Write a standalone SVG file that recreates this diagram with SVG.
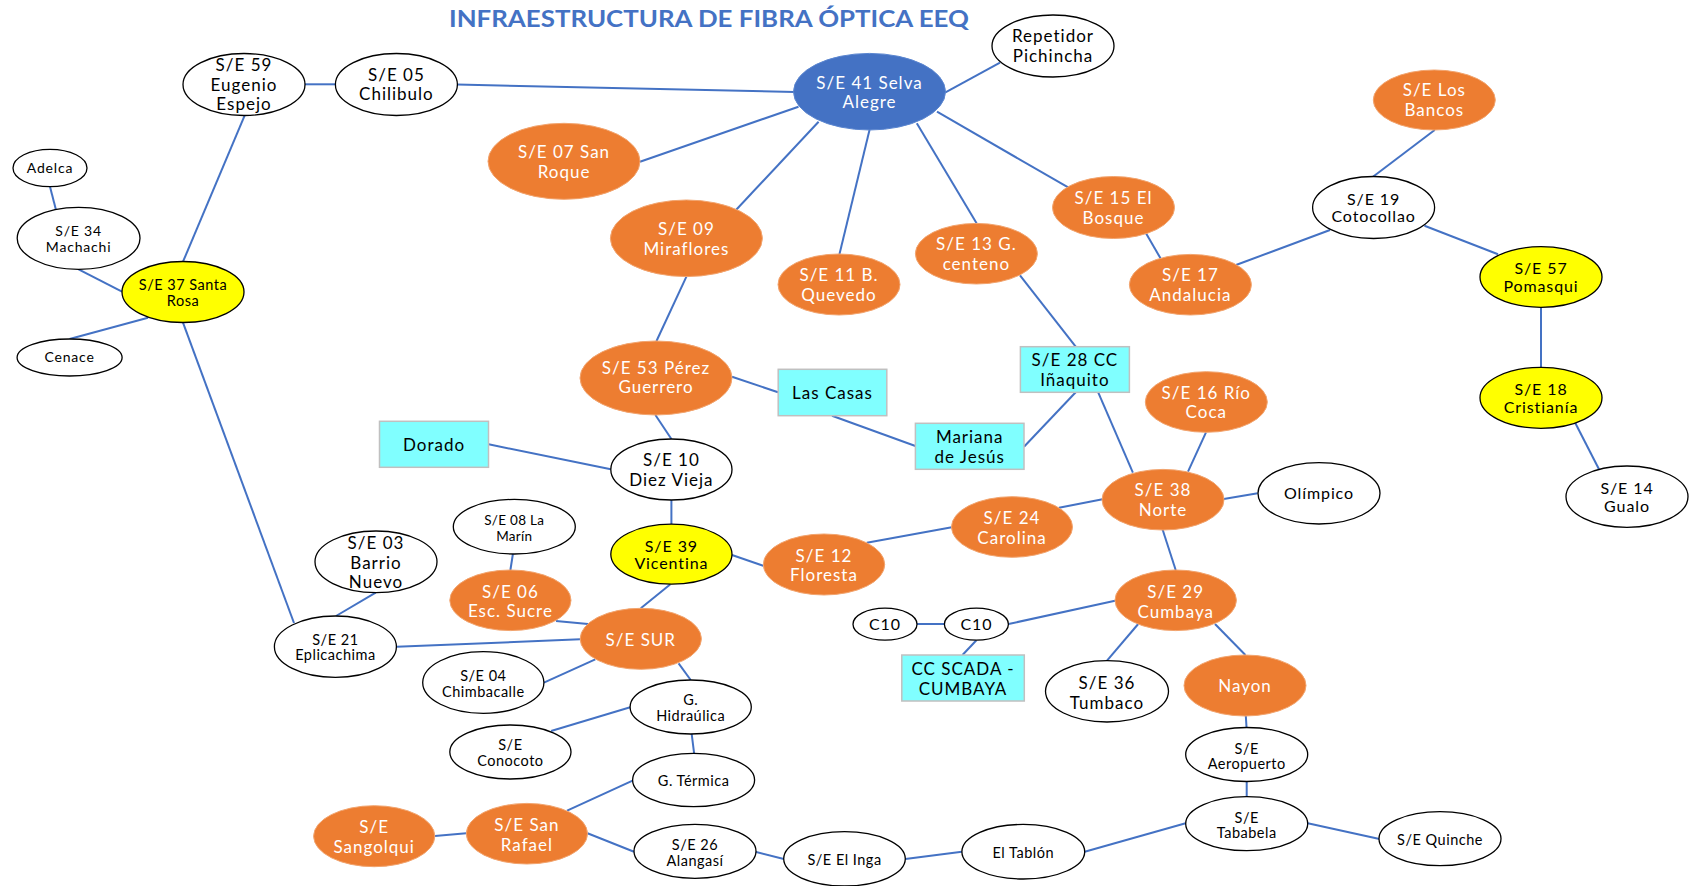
<svg xmlns="http://www.w3.org/2000/svg" width="1693" height="886" viewBox="0 0 1693 886">
  <style>
    .bg { fill: #ffffff; }
    .link { stroke: #4472C4; stroke-width: 2; fill: none; }
    .white ellipse { fill: #ffffff; stroke: #000000; stroke-width: 1.3; }
    .orange ellipse { fill: #ED7D31; stroke: #F2A46E; stroke-width: 1; }
    .blue ellipse { fill: #4472C4; stroke: #5B86D0; stroke-width: 1; }
    .yellow ellipse { fill: #FFFF00; stroke: #000000; stroke-width: 1.3; }
    .box rect { fill: #80FFFF; stroke: #C0C0C0; stroke-width: 1.5; }
    text { font-family: Lato, "Open Sans", "Liberation Sans", sans-serif; text-anchor: middle; font-size: 17px; letter-spacing: 1px; fill: #000000; }
    .orange text, .blue text { fill: #ffffff; }
    .s15 text { font-size: 16px; letter-spacing: 0.9px; }
    .s14 text { font-size: 14.5px; letter-spacing: 0.5px; }
    .s13 text { font-size: 14px; letter-spacing: 0.8px; }
    .s13c text { font-size: 13.5px; letter-spacing: 0.3px; }
    .title { font-family: Lato, "Open Sans", "Liberation Sans", sans-serif; font-weight: bold; font-size: 22px; letter-spacing: 0; fill: #4472C4; text-anchor: start; }
  </style>
  <rect class="bg" x="0" y="0" width="1693" height="886"/>

  <text class="title" x="449" y="27" textLength="520" lengthAdjust="spacingAndGlyphs">INFRAESTRUCTURA DE FIBRA ÓPTICA EEQ</text>

  <!-- fibre links -->
  <g id="connectors">
    <line class="link" x1="305" y1="84.3" x2="336" y2="84.3"/>
    <line class="link" x1="457" y1="84.5" x2="795" y2="92"/>
    <line class="link" x1="183" y1="261.7" x2="244.6" y2="115.7"/>
    <line class="link" x1="50" y1="186.7" x2="56" y2="210"/>
    <line class="link" x1="78.6" y1="269.3" x2="122" y2="291.7"/>
    <line class="link" x1="148" y1="317.7" x2="69.6" y2="339"/>
    <line class="link" x1="183" y1="322.7" x2="294" y2="623"/>
    <line class="link" x1="945" y1="92.7" x2="1000" y2="62.7"/>
    <line class="link" x1="640" y1="161.7" x2="798.5" y2="106.7"/>
    <line class="link" x1="818.6" y1="121.7" x2="736" y2="210"/>
    <line class="link" x1="869.5" y1="130" x2="839.5" y2="254"/>
    <line class="link" x1="916.8" y1="123.3" x2="976.6" y2="223.3"/>
    <line class="link" x1="937" y1="111.7" x2="1068.6" y2="187.7"/>
    <line class="link" x1="686.4" y1="276.7" x2="656.5" y2="341"/>
    <line class="link" x1="1020" y1="275.3" x2="1075.7" y2="346.7"/>
    <line class="link" x1="1434.7" y1="130" x2="1373" y2="176.7"/>
    <line class="link" x1="1146" y1="233.3" x2="1160.5" y2="258.3"/>
    <line class="link" x1="1236" y1="265" x2="1330" y2="230"/>
    <line class="link" x1="1424.5" y1="225.7" x2="1498" y2="254.3"/>
    <line class="link" x1="1541" y1="307.3" x2="1541" y2="367.3"/>
    <line class="link" x1="1575.4" y1="423.3" x2="1599" y2="469.3"/>
    <line class="link" x1="1206" y1="432.3" x2="1188" y2="471.7"/>
    <line class="link" x1="1223.7" y1="499" x2="1257.7" y2="493.3"/>
    <line class="link" x1="732" y1="376.7" x2="778" y2="392.3"/>
    <line class="link" x1="832" y1="415.7" x2="915.4" y2="446"/>
    <line class="link" x1="1024" y1="446.7" x2="1075.7" y2="392.3"/>
    <line class="link" x1="1098.2" y1="392.3" x2="1132.9" y2="472.7"/>
    <line class="link" x1="1059" y1="507.7" x2="1102.5" y2="499.3"/>
    <line class="link" x1="866.8" y1="542.7" x2="951.8" y2="527.3"/>
    <line class="link" x1="732" y1="555" x2="763.2" y2="565.7"/>
    <line class="link" x1="1162.5" y1="529.3" x2="1175.7" y2="570"/>
    <line class="link" x1="916.8" y1="624" x2="944.3" y2="624"/>
    <line class="link" x1="1008.6" y1="624" x2="1115" y2="600.7"/>
    <line class="link" x1="976.4" y1="640.2" x2="962.5" y2="655"/>
    <line class="link" x1="1138.2" y1="624" x2="1107" y2="660.7"/>
    <line class="link" x1="1215" y1="624" x2="1245.4" y2="655"/>
    <line class="link" x1="1245.8" y1="716" x2="1246.5" y2="727.3"/>
    <line class="link" x1="1246.7" y1="781.5" x2="1246.7" y2="796.7"/>
    <line class="link" x1="1307.8" y1="823.3" x2="1379.5" y2="839"/>
    <line class="link" x1="1084.7" y1="851.7" x2="1185.6" y2="823.3"/>
    <line class="link" x1="905.3" y1="859" x2="961.9" y2="851.7"/>
    <line class="link" x1="755.2" y1="851.7" x2="783.8" y2="859"/>
    <line class="link" x1="655.4" y1="415" x2="671.4" y2="439"/>
    <line class="link" x1="488.6" y1="444.3" x2="610.8" y2="469.3"/>
    <line class="link" x1="671.4" y1="500" x2="671.4" y2="524"/>
    <line class="link" x1="670.4" y1="584.3" x2="640.8" y2="608.3"/>
    <line class="link" x1="512.9" y1="554" x2="510.4" y2="570"/>
    <line class="link" x1="556" y1="621" x2="588" y2="624"/>
    <line class="link" x1="375.7" y1="592.7" x2="336" y2="616"/>
    <line class="link" x1="396.5" y1="646.7" x2="580.2" y2="639.3"/>
    <line class="link" x1="543.9" y1="682.7" x2="595.3" y2="659.3"/>
    <line class="link" x1="678.6" y1="663.3" x2="690.7" y2="680"/>
    <line class="link" x1="630.2" y1="707.3" x2="551.1" y2="731"/>
    <line class="link" x1="691.7" y1="734" x2="694.1" y2="753.3"/>
    <line class="link" x1="567.1" y1="810.7" x2="632.6" y2="780.7"/>
    <line class="link" x1="434.8" y1="836" x2="466.3" y2="833.3"/>
    <line class="link" x1="587.5" y1="833.3" x2="634" y2="851.7"/>
  </g>

  <!-- substations and sites -->
  <g id="se59" class="white"><ellipse cx="244" cy="84.5" rx="61" ry="31"/>
    <text><tspan x="244" y="71">S/E 59</tspan><tspan x="244" y="91">Eugenio</tspan><tspan x="244" y="110">Espejo</tspan></text></g>
  <g id="se05" class="white"><ellipse cx="396.4" cy="84.5" rx="61" ry="31"/>
    <text><tspan x="396.4" y="81">S/E 05</tspan><tspan x="396.4" y="100">Chilibulo</tspan></text></g>
  <g id="se41" class="blue"><ellipse cx="869.5" cy="91.7" rx="76" ry="38.3"/>
    <text><tspan x="869.5" y="89">S/E 41 Selva</tspan><tspan x="869.5" y="108">Alegre</tspan></text></g>
  <g id="repetidor" class="white"><ellipse cx="1053" cy="46" rx="61" ry="31"/>
    <text><tspan x="1053" y="42">Repetidor</tspan><tspan x="1053" y="62">Pichincha</tspan></text></g>
  <g id="se07" class="orange"><ellipse cx="564" cy="161.3" rx="76" ry="38"/>
    <text><tspan x="564" y="158">S/E 07 San</tspan><tspan x="564" y="178">Roque</tspan></text></g>
  <g id="se09" class="orange"><ellipse cx="686.4" cy="238.3" rx="76" ry="38.3"/>
    <text><tspan x="686.4" y="235">S/E 09</tspan><tspan x="686.4" y="255">Miraflores</tspan></text></g>
  <g id="se11" class="orange"><ellipse cx="839" cy="284.5" rx="61" ry="30.5"/>
    <text><tspan x="839" y="281">S/E 11 B.</tspan><tspan x="839" y="301">Quevedo</tspan></text></g>
  <g id="se13" class="orange"><ellipse cx="976.4" cy="253.7" rx="61" ry="30.3"/>
    <text><tspan x="976.4" y="250">S/E 13 G.</tspan><tspan x="976.4" y="270">centeno</tspan></text></g>
  <g id="se15" class="orange"><ellipse cx="1113.5" cy="207.5" rx="61" ry="31"/>
    <text><tspan x="1113.5" y="204">S/E 15 El</tspan><tspan x="1113.5" y="224">Bosque</tspan></text></g>
  <g id="losbancos" class="orange"><ellipse cx="1434.3" cy="100" rx="61" ry="30"/>
    <text><tspan x="1434.3" y="96">S/E Los</tspan><tspan x="1434.3" y="116">Bancos</tspan></text></g>
  <g id="se19" class="white s15"><ellipse cx="1373.6" cy="207.5" rx="61" ry="31"/>
    <text><tspan x="1373.6" y="205">S/E 19</tspan><tspan x="1373.6" y="221.5">Cotocollao</tspan></text></g>
  <g id="se17" class="orange"><ellipse cx="1190.4" cy="284.7" rx="61" ry="30.3"/>
    <text><tspan x="1190.4" y="281">S/E 17</tspan><tspan x="1190.4" y="301">Andalucia</tspan></text></g>
  <g id="se57" class="yellow s15"><ellipse cx="1541" cy="277" rx="61" ry="30.3"/>
    <text><tspan x="1541" y="274">S/E 57</tspan><tspan x="1541" y="292">Pomasqui</tspan></text></g>
  <g id="se18" class="yellow s15"><ellipse cx="1541" cy="397.8" rx="61" ry="30.5"/>
    <text><tspan x="1541" y="395">S/E 18</tspan><tspan x="1541" y="413">Cristianía</tspan></text></g>
  <g id="se14" class="white s15"><ellipse cx="1627" cy="496.7" rx="61" ry="30.7"/>
    <text><tspan x="1627" y="494">S/E 14</tspan><tspan x="1627" y="512">Gualo</tspan></text></g>
  <g id="se16" class="orange"><ellipse cx="1206.3" cy="402" rx="61" ry="30.3"/>
    <text><tspan x="1206.3" y="398.5">S/E 16 Río</tspan><tspan x="1206.3" y="418">Coca</tspan></text></g>
  <g id="se38" class="orange"><ellipse cx="1163" cy="499.7" rx="61" ry="30.3"/>
    <text><tspan x="1163" y="496">S/E 38</tspan><tspan x="1163" y="516">Norte</tspan></text></g>
  <g id="olimpico" class="white s15"><ellipse cx="1319" cy="493.3" rx="61" ry="30.7"/>
    <text x="1319" y="498.5">Olímpico</text></g>
  <g id="se28" class="box"><rect x="1020.4" y="346.7" width="109" height="45.6"/>
    <text><tspan x="1074.9" y="366">S/E 28 CC</tspan><tspan x="1074.9" y="386">Iñaquito</tspan></text></g>
  <g id="lascasas" class="box"><rect x="778.2" y="369.3" width="108.6" height="46.4"/>
    <text x="832.5" y="399">Las Casas</text></g>
  <g id="mariana" class="box"><rect x="915.4" y="423.3" width="108.6" height="46"/>
    <text><tspan x="969.7" y="442.5">Mariana</tspan><tspan x="969.7" y="462.5">de Jesús</tspan></text></g>
  <g id="se24" class="orange"><ellipse cx="1012" cy="527" rx="60.5" ry="30.3"/>
    <text><tspan x="1012" y="524">S/E 24</tspan><tspan x="1012" y="544">Carolina</tspan></text></g>
  <g id="se12" class="orange"><ellipse cx="824" cy="564.5" rx="60.7" ry="30.5"/>
    <text><tspan x="824" y="561.5">S/E 12</tspan><tspan x="824" y="581">Floresta</tspan></text></g>
  <g id="se29" class="orange"><ellipse cx="1175.7" cy="600.3" rx="60.7" ry="30.3"/>
    <text><tspan x="1175.7" y="598">S/E 29</tspan><tspan x="1175.7" y="617.5">Cumbaya</tspan></text></g>
  <g id="c10a" class="white s15"><ellipse cx="885" cy="624.2" rx="32" ry="16"/>
    <text x="885" y="630">C10</text></g>
  <g id="c10b" class="white s15"><ellipse cx="976.4" cy="624.2" rx="32" ry="16"/>
    <text x="976.4" y="630">C10</text></g>
  <g id="scada" class="box"><rect x="901.8" y="655" width="122.5" height="46"/>
    <text><tspan x="963" y="674.5">CC SCADA -</tspan><tspan x="963" y="694.5">CUMBAYA</tspan></text></g>
  <g id="se36" class="white"><ellipse cx="1107" cy="691.3" rx="61.5" ry="30.7"/>
    <text><tspan x="1107" y="688.5">S/E 36</tspan><tspan x="1107" y="708.5">Tumbaco</tspan></text></g>
  <g id="nayon" class="orange"><ellipse cx="1245" cy="685.5" rx="61" ry="30.5"/>
    <text x="1245" y="691.5">Nayon</text></g>
  <g id="aeropuerto" class="white s14"><ellipse cx="1246.7" cy="754.5" rx="61" ry="27"/>
    <text><tspan x="1246.7" y="753.5">S/E</tspan><tspan x="1246.7" y="768.5">Aeropuerto</tspan></text></g>
  <g id="tababela" class="white s14"><ellipse cx="1246.7" cy="823.7" rx="61" ry="27"/>
    <text><tspan x="1246.7" y="822.5">S/E</tspan><tspan x="1246.7" y="838">Tababela</tspan></text></g>
  <g id="quinche" class="white s14"><ellipse cx="1440" cy="838.7" rx="61" ry="27"/>
    <text x="1440" y="845">S/E Quinche</text></g>
  <g id="tablon" class="white s14"><ellipse cx="1023.3" cy="851.7" rx="61.4" ry="27.3"/>
    <text x="1023.3" y="858">El Tablón</text></g>
  <g id="elinga" class="white s14"><ellipse cx="844.5" cy="858.8" rx="60.8" ry="27.2"/>
    <text x="844.5" y="865">S/E El Inga</text></g>
  <g id="se26" class="white s14"><ellipse cx="695" cy="851.3" rx="61" ry="27"/>
    <text><tspan x="695" y="850">S/E 26</tspan><tspan x="695" y="866">Alangasí</tspan></text></g>
  <g id="sanrafael" class="orange"><ellipse cx="526.9" cy="833.7" rx="60.6" ry="30.3"/>
    <text><tspan x="526.9" y="830.5">S/E San</tspan><tspan x="526.9" y="850.5">Rafael</tspan></text></g>
  <g id="sangolqui" class="orange"><ellipse cx="374.2" cy="836.2" rx="60.6" ry="30.5"/>
    <text><tspan x="374.2" y="833">S/E</tspan><tspan x="374.2" y="853">Sangolqui</tspan></text></g>
  <g id="termica" class="white s14"><ellipse cx="693.6" cy="780" rx="61" ry="26.7"/>
    <text x="693.6" y="786">G. Térmica</text></g>
  <g id="conocoto" class="white s14"><ellipse cx="510.4" cy="752" rx="60.6" ry="27"/>
    <text><tspan x="510.4" y="750">S/E</tspan><tspan x="510.4" y="766">Conocoto</tspan></text></g>
  <g id="hidraulica" class="white s14"><ellipse cx="690.7" cy="707" rx="60.6" ry="27"/>
    <text><tspan x="690.7" y="705">G.</tspan><tspan x="690.7" y="721">Hidraúlica</tspan></text></g>
  <g id="se04" class="white s14"><ellipse cx="483.3" cy="682.5" rx="60.6" ry="30.8"/>
    <text><tspan x="483.3" y="680.5">S/E 04</tspan><tspan x="483.3" y="696.5">Chimbacalle</tspan></text></g>
  <g id="sesur" class="orange"><ellipse cx="640.8" cy="638.8" rx="60.6" ry="30.5"/>
    <text x="640.8" y="645.5">S/E SUR</text></g>
  <g id="se21" class="white s14"><ellipse cx="335.4" cy="646.7" rx="61" ry="30.7"/>
    <text><tspan x="335.4" y="645">S/E 21</tspan><tspan x="335.4" y="660">Eplicachima</tspan></text></g>
  <g id="se03" class="white"><ellipse cx="376" cy="561.8" rx="61" ry="30.8"/>
    <text><tspan x="376" y="549">S/E 03</tspan><tspan x="376" y="569">Barrio</tspan><tspan x="376" y="588">Nuevo</tspan></text></g>
  <g id="se06" class="orange"><ellipse cx="510.4" cy="600.3" rx="60.6" ry="30.3"/>
    <text><tspan x="510.4" y="598">S/E 06</tspan><tspan x="510.4" y="616.5">Esc. Sucre</tspan></text></g>
  <g id="se08" class="white s13c"><ellipse cx="514.3" cy="526.7" rx="61" ry="27.3"/>
    <text><tspan x="514.3" y="524.5">S/E 08 La</tspan><tspan x="514.3" y="540.5">Marín</tspan></text></g>
  <g id="se39" class="yellow s15"><ellipse cx="671.4" cy="554.2" rx="60.6" ry="30"/>
    <text><tspan x="671.4" y="552">S/E 39</tspan><tspan x="671.4" y="568.5">Vicentina</tspan></text></g>
  <g id="se10" class="white"><ellipse cx="671.4" cy="469.5" rx="60.6" ry="30.5"/>
    <text><tspan x="671.4" y="465.5">S/E 10</tspan><tspan x="671.4" y="485.5">Diez Vieja</tspan></text></g>
  <g id="dorado" class="box"><rect x="379.5" y="421.3" width="109" height="46"/>
    <text x="434" y="450.5">Dorado</text></g>
  <g id="se53" class="orange"><ellipse cx="656" cy="378" rx="76" ry="37"/>
    <text><tspan x="656" y="374">S/E 53 Pérez</tspan><tspan x="656" y="393">Guerrero</tspan></text></g>
  <g id="se37" class="yellow s14"><ellipse cx="183" cy="292" rx="61" ry="30.5"/>
    <text><tspan x="183" y="290">S/E 37 Santa</tspan><tspan x="183" y="306">Rosa</tspan></text></g>
  <g id="se34" class="white s13"><ellipse cx="78.6" cy="238.3" rx="61.4" ry="31"/>
    <text><tspan x="78.6" y="235.5">S/E 34</tspan><tspan x="78.6" y="251.5">Machachi</tspan></text></g>
  <g id="adelca" class="white s13"><ellipse cx="50" cy="168" rx="37" ry="18.7"/>
    <text x="50" y="172.5">Adelca</text></g>
  <g id="cenace" class="white s13"><ellipse cx="69.6" cy="357.5" rx="52.5" ry="18.5"/>
    <text x="69.6" y="362">Cenace</text></g>
</svg>
